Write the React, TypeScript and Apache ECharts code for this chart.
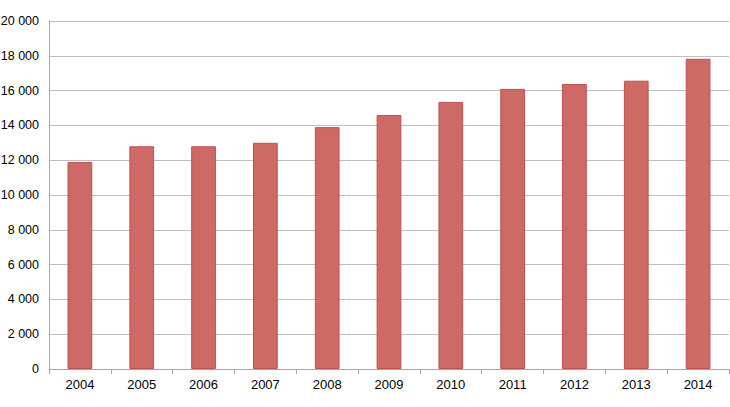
import React, { useEffect, useRef } from "react";
import * as echarts from "echarts";

const years = ["2004", "2005", "2006", "2007", "2008", "2009", "2010", "2011", "2012", "2013", "2014"];
const values = [11900, 12800, 12800, 13000, 13900, 14600, 15350, 16100, 16380, 16570, 17830];

const fmt = (v: number) => {
  const s = String(Math.round(v));
  return s.replace(/\B(?=(\d{3})+(?!\d))/g, " ");
};

export default function App() {
  const ref = useRef<HTMLDivElement>(null);
  useEffect(() => {
    const chart = echarts.init(ref.current!, undefined, { renderer: "svg" });
    chart.setOption({
      animation: false,
      grid: { left: 49, right: 1, top: 21, bottom: 38, containLabel: false, outerBoundsMode: "none" },
      xAxis: {
        type: "category",
        data: years,
        axisLine: { lineStyle: { color: "#a6a6a6", width: 1 } },
        axisTick: { show: true, alignWithLabel: false, length: 5, lineStyle: { color: "#a6a6a6" } },
        axisLabel: { color: "#000", fontFamily: "Liberation Sans, Arial, sans-serif", fontSize: 13, margin: 9 },
      },
      yAxis: {
        type: "value",
        min: 0,
        max: 20000,
        interval: 2000,
        axisLine: { show: true, lineStyle: { color: "#a6a6a6", width: 1 } },
        axisTick: { show: false },
        splitLine: { lineStyle: { color: "#bfbfbf", width: 1 } },
        axisLabel: {
          color: "#000",
          fontFamily: "Liberation Sans, Arial, sans-serif",
          fontSize: 12.5,
          margin: 10,
          formatter: (v: number) => fmt(v),
        },
      },
      series: [
        {
          type: "bar",
          data: values,
          barWidth: "40%",
          itemStyle: { color: "#cd6a65", borderColor: "#c0504d", borderWidth: 1 },
        },
      ],
    });
    return () => chart.dispose();
  }, []);
  return <div ref={ref} style={{ width: 730, height: 407, position: "absolute", left: 0, top: 0 }} />;
}
